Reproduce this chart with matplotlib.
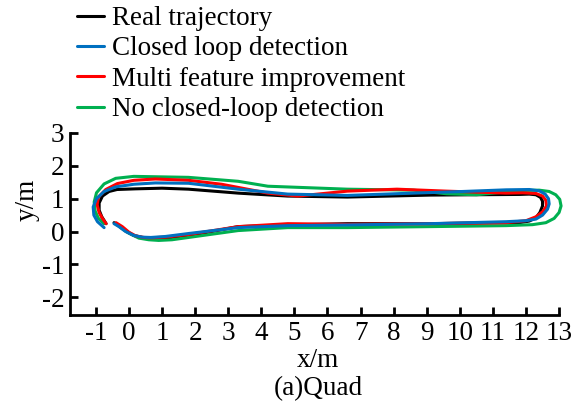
#!/usr/bin/env python3

import matplotlib
matplotlib.use("Agg")
import matplotlib.pyplot as plt

plt.rcParams["font.family"] = ["Liberation Serif", "DejaVu Serif"]
plt.rcParams["axes.unicode_minus"] = False

# trajectories (x/m, y/m), bottom start -> right -> top -> left end
real_x = [-0.45, -0.3, -0.1, 0.15, 0.4, 0.66, 1.1, 1.95, 3.3, 4.8, 6.6, 9.1, 11.4, 11.8,
          12.1, 12.3, 12.42, 12.5, 12.5, 12.44, 12.3, 12.1, 11.8, 9.1, 6.6, 4.8, 3.3, 1.8,
          1.0, 0.2, -0.36, -0.6, -0.8, -0.9, -0.9, -0.82, -0.69]
real_y = [0.27, 0.18, 0.02, -0.12, -0.18, -0.21, -0.2, -0.1, 0.15, 0.2, 0.24, 0.24, 0.27,
          0.27, 0.32, 0.42, 0.58, 0.78, 0.92, 1.04, 1.12, 1.14, 1.13, 1.11, 1.05, 1.08, 1.17,
          1.29, 1.32, 1.3, 1.28, 1.22, 1.08, 0.87, 0.65, 0.45, 0.24]

loop_x = [-0.45, -0.3, -0.1, 0.15, 0.4, 0.66, 1.1, 1.8, 3.3, 4.8, 6.6, 9.1, 11.4, 12.0,
          12.3, 12.5, 12.65, 12.7, 12.68, 12.58, 12.4, 12.1, 11.4, 10.1, 8.6, 6.6, 4.8, 3.3,
          1.8, 0.8, 0.15, -0.4, -0.75, -0.98, -1.08, -1.06, -0.95, -0.75]
loop_y = [0.24, 0.15, 0.0, -0.12, -0.17, -0.18, -0.15, -0.06, 0.12, 0.18, 0.2, 0.24, 0.3,
          0.33, 0.38, 0.5, 0.68, 0.84, 1.0, 1.14, 1.24, 1.28, 1.27, 1.22, 1.17, 1.1, 1.14,
          1.29, 1.47, 1.48, 1.44, 1.36, 1.22, 1.0, 0.75, 0.5, 0.3, 0.12]

multi_x = [-0.39, -0.2, 0.0, 0.2, 0.45, 0.66, 1.1, 1.8, 3.3, 4.8, 6.6, 9.1, 11.4, 12.0,
           12.3, 12.5, 12.62, 12.6, 12.5, 12.3, 11.9, 11.4, 9.6, 8.1, 6.6, 5.1, 4.2, 2.8,
           1.8, 0.8, 0.15, -0.35, -0.7, -0.92, -0.96, -0.9, -0.8, -0.69]
multi_y = [0.27, 0.15, -0.02, -0.13, -0.18, -0.19, -0.17, -0.09, 0.15, 0.24, 0.22, 0.24,
           0.27, 0.33, 0.45, 0.6, 0.78, 0.95, 1.08, 1.16, 1.18, 1.17, 1.23, 1.29, 1.23, 1.08,
           1.17, 1.44, 1.56, 1.6, 1.56, 1.46, 1.28, 1.05, 0.82, 0.58, 0.4, 0.24]

noloop_x = [-0.4, -0.25, 0.0, 0.3, 0.6, 0.9, 1.3, 1.8, 3.3, 4.8, 6.6, 9.1, 11.4, 12.2, 12.6,
            12.85, 13.0, 13.06, 13.02, 12.9, 12.7, 12.4, 11.9, 11.5, 10.5, 9.6, 8.6, 6.6,
            4.2, 3.3, 1.8, 0.15, -0.4, -0.75, -0.98, -1.05, -1.02, -0.92, -0.75]
noloop_y = [0.24, 0.12, -0.05, -0.2, -0.25, -0.27, -0.25, -0.18, 0.03, 0.12, 0.12, 0.15,
            0.18, 0.21, 0.27, 0.4, 0.58, 0.78, 0.98, 1.12, 1.22, 1.26, 1.25, 1.22, 1.12, 1.15,
            1.26, 1.29, 1.38, 1.53, 1.65, 1.68, 1.62, 1.45, 1.18, 0.9, 0.62, 0.4, 0.24]

labels = ["Real trajectory", "Closed loop detection",
          "Multi feature improvement", "No closed-loop detection"]
x_ticks = list(range(-1, 14))
y_ticks = list(range(-2, 4))


def main():
    fig = plt.figure(figsize=(5.85, 4.04), dpi=100)
    ax = fig.add_axes([0.1197, 0.2203, 0.836, 0.4505])

    lw = 2.2
    style = dict(lw=lw, clip_on=False, solid_joinstyle="round", solid_capstyle="round")
    h_real, = ax.plot(real_x, real_y, color="black", zorder=2, **style)
    h_noloop, = ax.plot(noloop_x, noloop_y, color="#00B050", zorder=3, **style)
    h_multi, = ax.plot(multi_x, multi_y, color="#FF0000", zorder=4, **style)
    h_loop, = ax.plot(loop_x, loop_y, color="#0070C0", zorder=5, **style)

    ax.set_xlim(-1.78, 13)
    ax.set_ylim(-2.54, 3)
    ax.set_xticks(x_ticks)
    ax.set_yticks(y_ticks)
    for side in ("top", "right"):
        ax.spines[side].set_visible(False)
    for side in ("left", "bottom"):
        ax.spines[side].set_linewidth(2.0)
    ax.tick_params(direction="in", length=6, width=2, labelsize=19.5, pad=4)

    fig.text(0.544, 0.108, "x/m", ha="center", va="center", fontsize=19.5)
    fig.text(0.544, 0.038, "(a)Quad", ha="center", va="center", fontsize=19.5)
    fig.text(0.046, 0.505, "y/m", ha="center", va="center", rotation=90, fontsize=19.5)

    fig.legend([h_real, h_loop, h_multi, h_noloop], labels,
               loc="upper left", bbox_to_anchor=(0.132, 0.985), frameon=False,
               fontsize=19.5, handlelength=1.0, handletextpad=0.3,
               labelspacing=0.2, borderaxespad=0.0, borderpad=0.0)

    fig.savefig("out.png", dpi=100)
    plt.close(fig)


if __name__ == "__main__":
    main()
